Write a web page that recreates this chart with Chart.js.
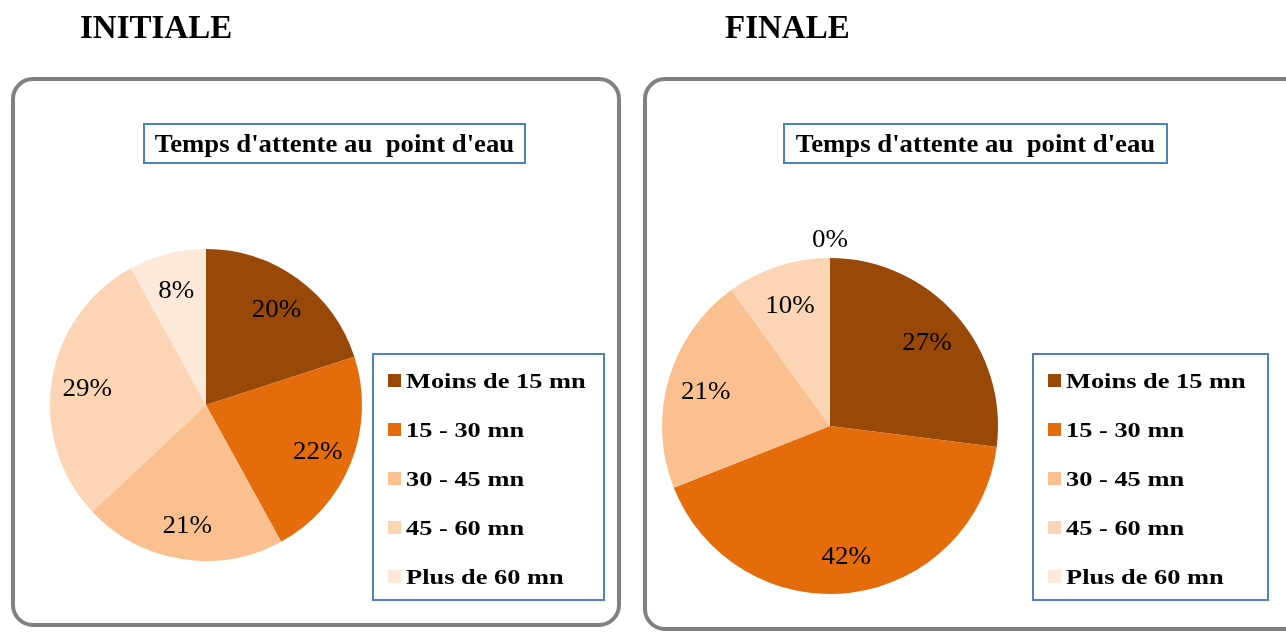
<!DOCTYPE html>
<html lang="fr">
<head>
<meta charset="utf-8">
<title>Temps d'attente au point d'eau</title>
<script src="https://cdn.jsdelivr.net/npm/chart.js@4.4.0/dist/chart.umd.min.js"></script>
<style>
  html, body { margin: 0; padding: 0; background: #fff; }
  #page { position: relative; width: 1286px; height: 632px; overflow: hidden; }
  canvas { position: absolute; top: 0; }
</style>
</head>
<body>
<div id="page">
  <canvas id="grapheInitiale" width="640" height="632" style="left:0"></canvas>
  <canvas id="grapheFinale" width="646" height="632" style="left:640px"></canvas>
</div>
<script>
// Données (%)
var categories = ['Moins de 15 mn', '15 - 30 mn', '30 - 45 mn', '45 - 60 mn', 'Plus de 60 mn'];
var valeursInitiale = [20, 22, 21, 29, 8];
var valeursFinale = [27, 42, 21, 10, 0];
var couleurs = ['#984807', '#E46C0A', '#FAC090', '#FCD5B5', '#FDE9D9'];
var titreGraphe = "Temps d'attente au  point d'eau";

var serif = "'Liberation Serif', 'Times New Roman', serif";
var bleu = '#4F81BD';

// texte un peu élargi horizontalement
function texte(ctx, txt, x, y, sx, align) {
    ctx.save();
    ctx.translate(x, y);
    ctx.scale(sx, 1);
    ctx.textAlign = align;
    ctx.fillText(txt, 0, 0);
    ctx.restore();
}

// cadre, en-tête, titre encadré, légende et pourcentages
var habillage = {
    id: 'habillage',
    beforeDraw: function (chart, args, o) {
        var ctx = chart.ctx;
        ctx.save();
        ctx.strokeStyle = '#808080';
        ctx.lineWidth = 4;
        ctx.beginPath();
        ctx.roundRect(o.cadre[0], o.cadre[1], o.cadre[2], o.cadre[3], 20);
        ctx.stroke();

        ctx.fillStyle = '#000';
        ctx.textBaseline = 'alphabetic';
        ctx.font = 'bold 33px ' + serif;
        texte(ctx, o.entete, o.enteteX, 38, 1, 'left');

        var t = o.boiteTitre;
        ctx.strokeStyle = bleu;
        ctx.lineWidth = 2;
        ctx.strokeRect(t[0], t[1], t[2], t[3]);
        ctx.font = 'bold 25px ' + serif;
        texte(ctx, titreGraphe, t[0] + t[2] / 2, 152, 1.07, 'center');
        ctx.restore();
    },
    afterDraw: function (chart, args, o) {
        var ctx = chart.ctx;
        var ds = chart.data.datasets[0];
        var meta = chart.getDatasetMeta(0);
        ctx.save();

        // pourcentages sur les secteurs
        ctx.fillStyle = '#000';
        ctx.font = '25px ' + serif;
        ctx.textBaseline = 'middle';
        meta.data.forEach(function (arc, i) {
            var p = arc.getProps(['x', 'y', 'startAngle', 'endAngle', 'outerRadius'], true);
            var a = (p.startAngle + p.endAngle) / 2;
            var r = ds.data[i] === 0 ? p.outerRadius + 21 : p.outerRadius * 0.77;
            texte(ctx, ds.data[i] + '%', p.x + Math.cos(a) * r, p.y + Math.sin(a) * r + 3, 1.08, 'center');
        });

        // légende
        var l = o.boiteLegende;
        ctx.strokeStyle = bleu;
        ctx.lineWidth = 2;
        ctx.strokeRect(l[0], l[1], l[2], l[3]);
        ctx.font = 'bold 22px ' + serif;
        ctx.textBaseline = 'alphabetic';
        chart.data.labels.forEach(function (lab, i) {
            var yc = l[1] + 26 + i * 49;
            ctx.fillStyle = ds.backgroundColor[i];
            ctx.fillRect(l[0] + 15, yc - 6, 13, 13);
            ctx.fillStyle = '#000';
            texte(ctx, lab, l[0] + 33, yc + 8, 1.2, 'left');
        });
        ctx.restore();
    }
};

function graphe(id, valeurs, padding, rayon, deco) {
    return new Chart(document.getElementById(id), {
        type: 'pie',
        data: {
            labels: categories,
            datasets: [{
                data: valeurs,
                backgroundColor: couleurs,
                borderWidth: 0,
                hoverOffset: 0
            }]
        },
        options: {
            responsive: false,
            animation: false,
            events: [],
            radius: rayon,
            layout: { padding: padding },
            plugins: {
                legend: { display: false },
                tooltip: { enabled: false },
                habillage: deco
            }
        },
        plugins: [habillage]
    });
}

graphe('grapheInitiale', valeursInitiale,
    { left: 0, right: 228, top: 178, bottom: 0 }, 156,
    {
        cadre: [13, 79, 606, 546],
        entete: 'INITIALE', enteteX: 80,
        boiteTitre: [144, 124, 381, 39],
        boiteLegende: [373, 354, 231, 246]
    });

graphe('grapheFinale', valeursFinale,
    { left: 0, right: 266, top: 220, bottom: 0 }, 168,
    {
        cadre: [5, 79, 670, 550],
        entete: 'FINALE', enteteX: 85,
        boiteTitre: [144, 124, 383, 39],
        boiteLegende: [393, 354, 235, 246]
    });
</script>
</body>
</html>
